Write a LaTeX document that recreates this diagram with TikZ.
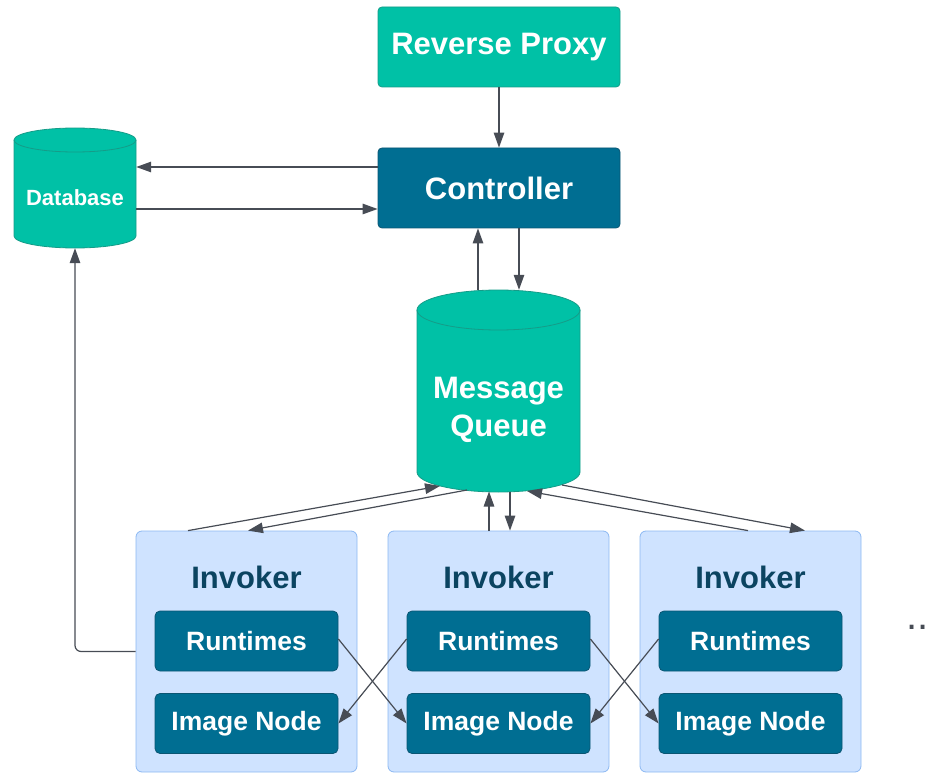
\documentclass[tikz,border=0pt]{standalone}
\usepackage{fontspec}
\setmainfont{Liberation Sans}
\usetikzlibrary{arrows.meta}
\definecolor{boxteal}{HTML}{00C1A6}
\definecolor{tealedge}{HTML}{159C88}
\definecolor{ctrlblue}{HTML}{006E92}
\definecolor{blueedge}{HTML}{0B5673}
\definecolor{invfill}{HTML}{CFE3FF}
\definecolor{invedge}{HTML}{8CB8F2}
\definecolor{invtext}{HTML}{0B4461}
\definecolor{linegray}{HTML}{474C55}
\tikzset{
  tealbox/.style={draw=tealedge, fill=boxteal, rounded corners=4pt, line width=0.8pt,
    minimum width=242pt, minimum height=80pt, text=white,
    font=\bfseries\fontsize{31}{36}\selectfont},
  bluebox/.style={tealbox, draw=blueedge, fill=ctrlblue},
  invbox/.style={draw=invedge, fill=invfill, rounded corners=6pt, line width=0.8pt,
    minimum width=221pt, minimum height=241pt},
  invlabel/.style={text=invtext, font=\bfseries\fontsize{31}{36}\selectfont},
  subbox/.style={draw=blueedge, fill=ctrlblue, rounded corners=5pt, line width=0.8pt,
    minimum width=183pt, minimum height=60pt, text=white,
    font=\bfseries\fontsize{26.5}{32}\selectfont},
  cylfill/.style={draw=tealedge, fill=boxteal, line width=0.8pt},
  cylframe/.style={inner sep=0pt},
  cyltext/.style={text=white, align=center, font=\bfseries\fontsize{31}{38}\selectfont},
  arr/.style={draw=linegray, line width=1.2pt, -{Triangle[length=15pt,width=10.5pt]}},
}
\begin{document}
\begin{tikzpicture}[x=1pt,y=1pt]
  \useasboundingbox (0,0) rectangle (930,-773);
  % top boxes
  \node[tealbox] (proxy) at (499,-47) {Reverse Proxy};
  \node[bluebox] (ctrl) at (499,-188) {Controller};
  % database cylinder
  \filldraw[cylfill] (14,-140) -- (14,-236) arc[start angle=180,end angle=360,x radius=61,y radius=12]
     -- (136,-140) arc[start angle=0,end angle=180,x radius=61,y radius=12] -- cycle;
  \draw[tealedge, line width=0.8pt] (14,-140) arc[start angle=180,end angle=360,x radius=61,y radius=12];
  \node[cylframe, minimum width=122pt, minimum height=120pt] (db) at (75,-188) {};
  \node[cyltext, font=\bfseries\fontsize{22}{26}\selectfont] (dbtext) at (75,-198) {Database};
  % message queue cylinder
  \filldraw[cylfill] (417,-310) -- (417,-472) arc[start angle=180,end angle=360,x radius=81.5,y radius=20]
     -- (580,-310) arc[start angle=0,end angle=180,x radius=81.5,y radius=20] -- cycle;
  \draw[tealedge, line width=0.8pt] (417,-310) arc[start angle=180,end angle=360,x radius=81.5,y radius=20];
  \node[cylframe, minimum width=163pt, minimum height=202pt] (mq) at (498.5,-391) {};
  \node[cyltext] (mqtext) at (498.5,-410) {Message\\Queue};
  \coordinate (mqa) at (440,-486);
  \coordinate (mqb) at (467,-490);
  \coordinate (mqc) at (489,-491.5);
  \coordinate (mqd) at (510,-491.5);
  \coordinate (mqe) at (527,-491);
  \coordinate (mqf) at (562,-485);
  % invokers
  \node[invbox] (inv1) at (246.5,-651.5) {};
  \node[invlabel] (inv1t) at (246.5,-577.5) {Invoker};
  \node[subbox] (rt1) at (246.5,-641) {Runtimes};
  \node[subbox] (img1) at (246.5,-723.5) {Image Node};
  \node[invbox] (inv2) at (498.5,-651.5) {};
  \node[invlabel] (inv2t) at (498.5,-577.5) {Invoker};
  \node[subbox] (rt2) at (498.5,-641) {Runtimes};
  \node[subbox] (img2) at (498.5,-723.5) {Image Node};
  \node[invbox] (inv3) at (750.5,-651.5) {};
  \node[invlabel] (inv3t) at (750.5,-577.5) {Invoker};
  \node[subbox] (rt3) at (750.5,-641) {Runtimes};
  \node[subbox] (img3) at (750.5,-723.5) {Image Node};
  \node[text=linegray, font=\fontsize{40}{44}\selectfont] (more) at (917.5,-627) {..};
  % connectors
  \draw[arr] (proxy) -- (ctrl);
  \draw[arr] ([yshift=21pt]ctrl.west) -- ([yshift=21pt]db.east);
  \draw[arr] ([yshift=-21pt]db.east) -- ([yshift=-21pt]ctrl.west);
  \draw[arr] ([xshift=-20.5pt]mq.north) -- ([xshift=-21pt]ctrl.south);
  \draw[arr] ([xshift=20pt]ctrl.south) -- ([xshift=20.5pt]mq.north);
  \draw[arr] ([xshift=-58.5pt]inv1.north) -- (mqa);
  \draw[arr] (mqb) -- ([xshift=1.5pt]inv1.north);
  \draw[arr] ([xshift=-9.5pt]inv2.north) -- (mqc);
  \draw[arr] (mqd) -- ([xshift=11.5pt]inv2.north);
  \draw[arr] ([xshift=-2.5pt]inv3.north) -- (mqe);
  \draw[arr] (mqf) -- ([xshift=54.5pt]inv3.north);
  \draw[arr, rounded corners=6pt] (inv1.west) -| (db.south);
  \draw[arr] ([yshift=2pt]rt1.east) -- (img2.west);
  \draw[arr] ([yshift=2pt]rt2.west) -- (img1.east);
  \draw[arr] ([yshift=2pt]rt2.east) -- (img3.west);
  \draw[arr] ([yshift=2pt]rt3.west) -- (img2.east);
\end{tikzpicture}
\end{document}
